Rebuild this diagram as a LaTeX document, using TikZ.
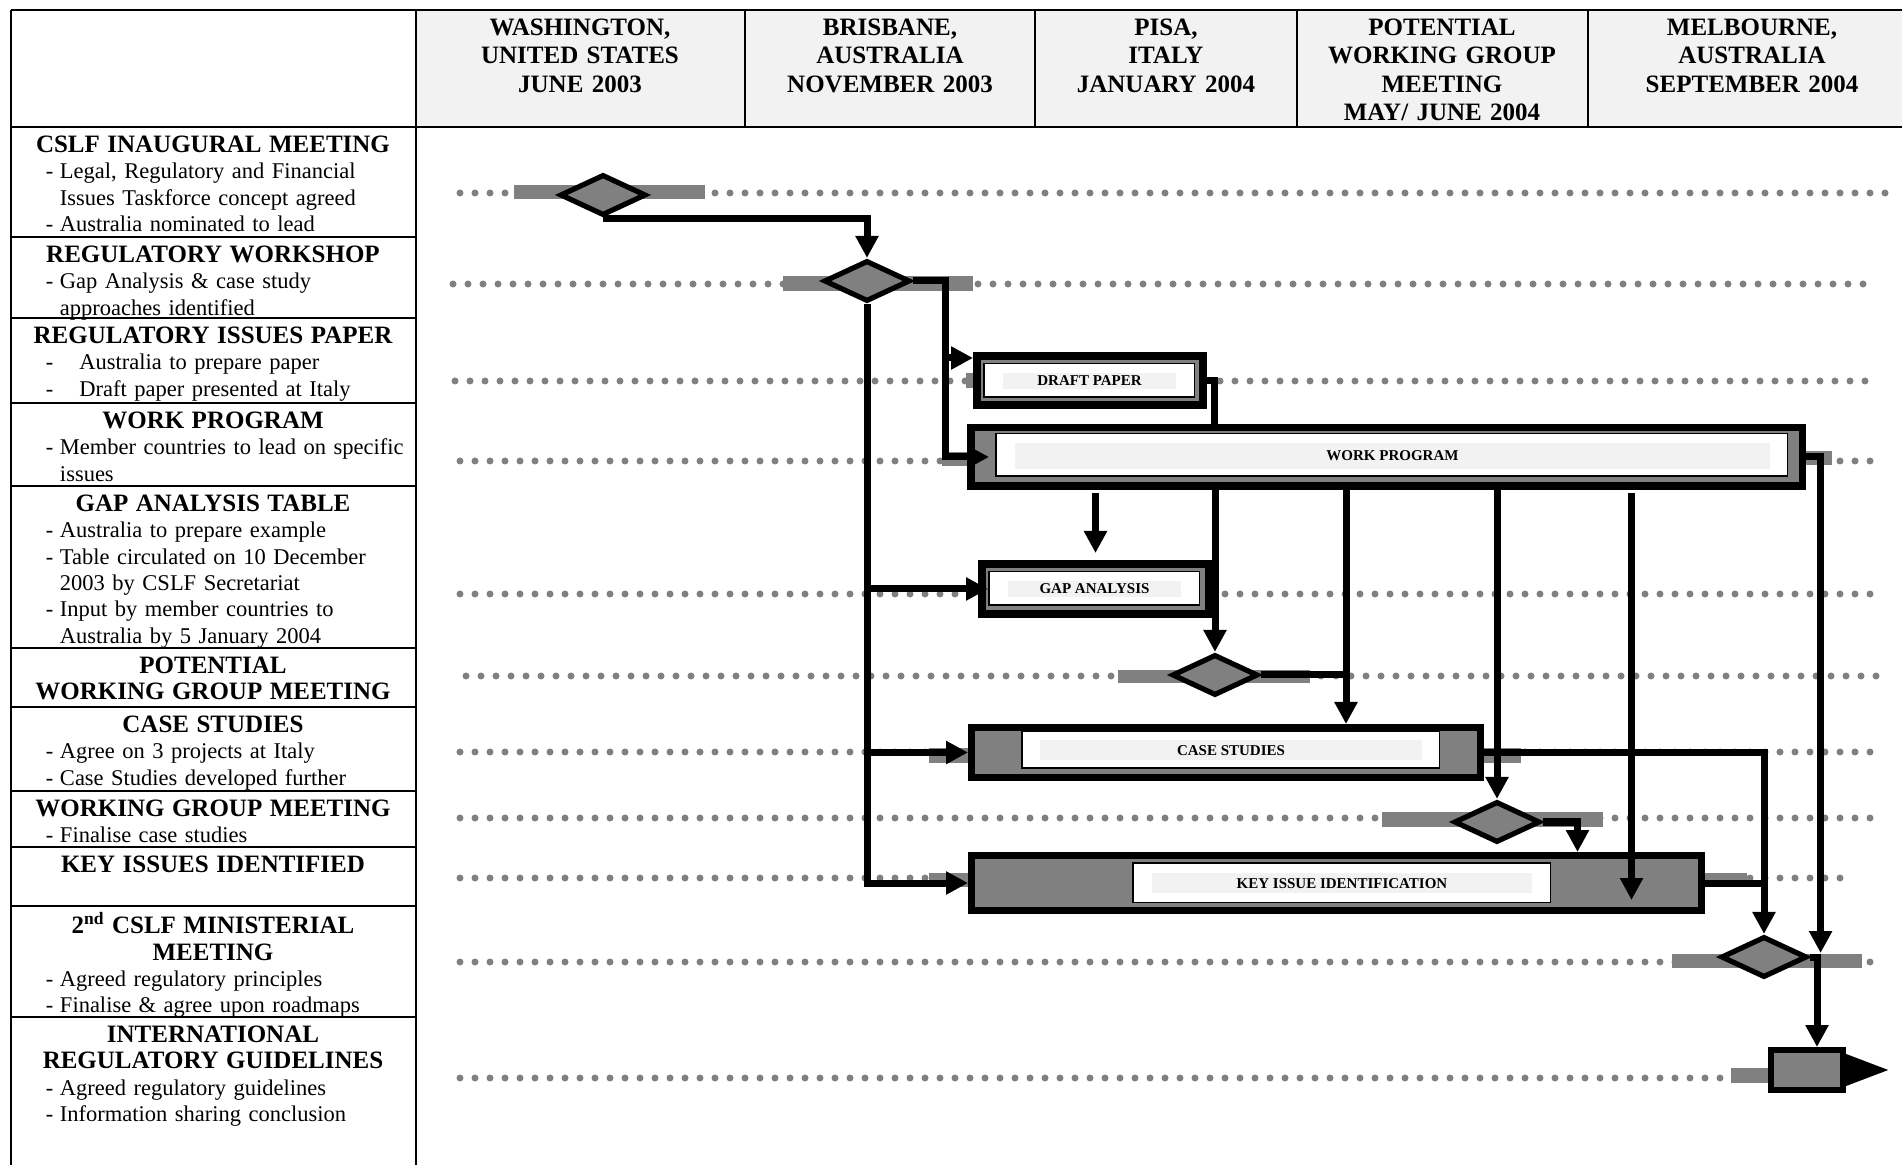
\documentclass[tikz,border=0pt]{standalone}
\usepackage{fontspec}
\setmainfont{Liberation Serif}
\usetikzlibrary{arrows.meta,calc,shapes.geometric}
\setlength{\parindent}{0pt}
\hyphenpenalty=10000
\exhyphenpenalty=10000
\definecolor{bargray}{rgb}{0.5,0.5,0.5}
\definecolor{dotgray}{rgb}{0.5,0.5,0.5}
\definecolor{panegray}{rgb}{0.95,0.95,0.95}
\newcommand{\rowhead}[1]{{\centering\bfseries\fontsize{12.5}{13.2}\selectfont\strut#1\par}}
\newcommand{\bul}[2][21.5pt]{{\hangindent=#1\hangafter=1\noindent\hspace*{14.5pt}\makebox[\dimexpr#1-14.5pt\relax][l]{-}#2\par}}
\tikzset{
  tabline/.style={
    line width=1.2pt,
    black
  },
  headcell/.style={
    anchor=north,
    align=center,
    text width=140pt,
    inner xsep=0pt,
    inner ysep=2.5pt,
    font=\bfseries\fontsize{12.5}{14.25}\selectfont
  },
  rowcell/.style={
    anchor=north,
    align=left,
    text width=196pt,
    inner xsep=0pt,
    inner ysep=3.2pt,
    font=\fontsize{11.25}{13.2}\selectfont
  },
  dotrow/.style={
    dotgray,
    line width=3.5pt,
    line cap=round,
    dash pattern=on 0pt off 7.5pt
  },
  gbar/.style={
    fill=bargray
  },
  milestone/.style={
    diamond,
    draw,
    line width=2.6pt,
    line join=miter,
    fill=bargray,
    minimum width=43pt,
    minimum height=20.5pt,
    inner sep=0pt
  },
  task/.style={
    rectangle,
    draw,
    line width=3.5pt,
    fill=bargray,
    inner sep=0pt
  },
  pane/.style={
    rectangle,
    draw,
    line width=0.75pt,
    fill=white,
    inner sep=0pt
  },
  tag/.style={
    fill=panegray,
    inner sep=0pt,
    text height=5pt,
    text depth=0pt,
    font=\bfseries\fontsize{7.5}{9}\selectfont
  },
  link/.style={
    line width=3.5pt,
    line join=miter
  },
  arrow/.style={
    link,
    -{Triangle[length=11pt,width=11pt]}
  },
  bigarrow/.style={
    link,
    -{Triangle[length=21.5pt,width=15pt]}
  }
}

\begin{document}
\begin{tikzpicture}[x=0.5pt,y=-0.5pt]
\useasboundingbox (0,0) rectangle (1902,1165);
\fill[panegray] (416,10) rectangle (1902,127);
\draw[tabline] (11,10) -- (1902,10) (11,127) -- (1902,127) (11,10) -- (11,1165) (416,10) -- (416,1165);
\foreach \x in {745,1035,1297,1588}
  \draw[tabline] (\x,10) -- (\x,127);
\foreach \y in {237,318,403,486,648,707,791,847,906,1017}
  \draw[tabline] (11,\y) -- (416,\y);

\node[headcell] (washington) at (580,10) {\strut WASHINGTON,\\UNITED STATES\\JUNE 2003};
\node[headcell] (brisbane) at (890,10) {\strut BRISBANE,\\AUSTRALIA\\NOVEMBER 2003};
\node[headcell] (pisa) at (1166,10) {\strut PISA,\\ITALY\\JANUARY 2004};
\node[headcell] (potential) at (1442,10) {\strut POTENTIAL\\WORKING GROUP\\MEETING\\MAY/ JUNE 2004};
\node[headcell] (melbourne) at (1752,10) {\strut MELBOURNE,\\AUSTRALIA\\SEPTEMBER 2004};

\node[rowcell] (inaugtxt) at (213,127) {\rowhead{CSLF INAUGURAL MEETING}\bul{Legal, Regulatory and Financial\newline Issues Taskforce concept agreed}\bul{Australia nominated to lead}};
\node[rowcell] (wkshoptxt) at (213,237) {\rowhead{REGULATORY WORKSHOP}\bul{Gap Analysis \& case study\newline approaches identified}};
\node[rowcell] (papertxt) at (213,318) {\rowhead{REGULATORY ISSUES PAPER}\bul[31.25pt]{Australia to prepare paper}\bul[31.25pt]{Draft paper presented at Italy}};
\node[rowcell] (wprogtxt) at (213,403) {\rowhead{WORK PROGRAM}\bul{Member countries to lead on specific\newline issues}};
\node[rowcell] (gaptxt) at (213,486) {\rowhead{GAP ANALYSIS TABLE}\bul{Australia to prepare example}\bul{Table circulated on 10 December\newline 2003 by CSLF Secretariat}\bul{Input by member countries to\newline Australia by 5 January 2004}};
\node[rowcell] (pwgtxt) at (213,648) {\rowhead{POTENTIAL\\WORKING GROUP MEETING}};
\node[rowcell] (casestxt) at (213,707) {\rowhead{CASE STUDIES}\bul{Agree on 3 projects at Italy}\bul{Case Studies developed further}};
\node[rowcell] (wgmtxt) at (213,791) {\rowhead{WORKING GROUP MEETING}\bul{Finalise case studies}};
\node[rowcell] (keytxt) at (213,847) {\rowhead{KEY ISSUES IDENTIFIED}};
\node[rowcell] (ministtxt) at (213,906) {\rowhead{2\textsuperscript{nd} CSLF MINISTERIAL\\MEETING}\bul{Agreed regulatory principles}\bul{Finalise \& agree upon roadmaps}};
\node[rowcell] (guidetxt) at (213,1017) {\rowhead{INTERNATIONAL\\REGULATORY GUIDELINES}\bul{Agreed regulatory guidelines}\bul{Information sharing conclusion}};

\foreach \y/\a/\b in {193/460/1886,284/453/1874,381/455/1878,461/460/1880,594/460/1880,676/466/1880,752/460/1880,818/460/1880,878/460/1850,962/460/1881,1078/460/1728}
  \draw[dotrow] (\a,\y) -- (\b,\y);

\fill[gbar] (514,185) rectangle (705,199);
\fill[gbar] (783,276) rectangle (973,291);
\fill[gbar] (966,373) rectangle (975,388);
\fill[gbar] (942,452) rectangle (968,466);
\fill[gbar] (1806,451) rectangle (1832,465);
\fill[gbar] (1118,670) rectangle (1310,683);
\fill[gbar] (929,748) rectangle (968,763);
\fill[gbar] (1484,748) rectangle (1521,763);
\fill[gbar] (1382,812) rectangle (1603,827);
\fill[gbar] (929,873) rectangle (968,887);
\fill[gbar] (1705,873) rectangle (1747,887);
\fill[gbar] (1672,954) rectangle (1862,968);
\fill[gbar] (1731,1068) rectangle (1768,1083);

\node[milestone] (inaug) at (603,195) {};
\node[milestone] (wkshop) at (867,281) {};
\node[milestone] (pwg) at (1215,675) {};
\node[milestone] (wgm) at (1497,822) {};
\node[milestone] (minist) at (1764,957) {};

\node[task, line width=4pt, minimum width=113pt, minimum height=24.5pt] (draft) at (1090,380.5) {};
\node[pane, minimum width=105.25pt, minimum height=16.75pt] (draftpane) at (1089,380.5) {};
\node[tag, minimum width=86.5pt, minimum height=8pt] (drafttag) at (1089.5,381) {DRAFT PAPER};

\node[task, line width=3.75pt, minimum width=415.75pt, minimum height=29.25pt] (wprog) at (1386.5,457) {};
\node[pane, minimum width=395.75pt, minimum height=21.25pt] (wprogpane) at (1391.5,455) {};
\node[tag, minimum width=377.5pt, minimum height=13pt] (wprogtag) at (1392.5,456) {WORK PROGRAM};

\node[task, line width=4pt, minimum width=113.5pt, minimum height=25pt] (gap) at (1095.5,589) {};
\node[pane, minimum width=105.25pt, minimum height=16.75pt] (gappane) at (1094,588.5) {};
\node[tag, minimum width=86.5pt, minimum height=8pt] (gaptag) at (1094.5,589) {GAP ANALYSIS};

\node[task, minimum width=254.5pt, minimum height=25pt] (cases) at (1226,752.5) {};
\node[pane, minimum width=208.75pt, minimum height=18.25pt] (casespane) at (1230.5,750) {};
\node[tag, minimum width=191pt, minimum height=10pt] (casestag) at (1231,750) {CASE STUDIES};

\node[task, minimum width=365pt, minimum height=27.5pt] (keyiss) at (1336.5,883) {};
\node[pane, minimum width=208.75pt, minimum height=19.75pt] (keypane) at (1341.5,882.5) {};
\node[tag, minimum width=190pt, minimum height=10pt] (keytag) at (1342,883) {KEY ISSUE IDENTIFICATION};

\node[task, line width=3pt, minimum width=36pt, minimum height=20pt] (guide) at (1807,1070) {};

\coordinate (split) at ($(wkshop.east)+(33,0)$);
\coordinate (casein) at ($(cases.north)+(120,0)$);
\coordinate (keydrop) at ($(keyiss.south)+(295,-14)$);
\coordinate (ministin) at ($(minist.east)+(11,-4)$);
\coordinate (guideout) at ($(guide.east)+(43,0)$);

\draw[arrow] (inaug.south) -| (wkshop.north);
\draw[arrow] (wkshop.east) -- (split) |- ($(draft.north west)+(0,6)$);
\draw[arrow] (split) |- ([xshift=11pt]wprog.west);
\draw[arrow] (wkshop.south) |- ([xshift=5pt]gap.west);
\draw[arrow] (wkshop.south) |- (cases.west);
\draw[arrow] (wkshop.south) |- (keyiss.west);
\draw[link] (draft.east) -| ($(draft.east |- wprog.north)+(7,0)$);
\draw[arrow] ($(wprog.south -| gap.north)+(0,3)$) -- ($(gap.north)+(0,-7)$);
\draw[arrow] (wprog.south -| pwg.north) -- (pwg.north);
\draw[arrow] (wprog.south -| casein) -- (casein);
\draw[link] (pwg.east) -- (pwg.east -| casein);
\draw[arrow] (wprog.south -| wgm.north) -- (wgm.north);
\draw[arrow] ($(wprog.south -| keydrop)+(0,3)$) -- (keydrop);
\draw[arrow] (wgm.east) -| ($(keyiss.north)+(241,0)$);
\draw[arrow] (cases.east) -| (minist.north);
\draw[link] (keyiss.east) -- (keyiss.east -| minist.north);
\draw[arrow] (wprog.east) -| (ministin);
\draw[arrow] (minist.east) -| ($(guide.north)+(10,0)$);
\draw[bigarrow] (guide.east) -- (guideout);
\end{tikzpicture}
\end{document}
